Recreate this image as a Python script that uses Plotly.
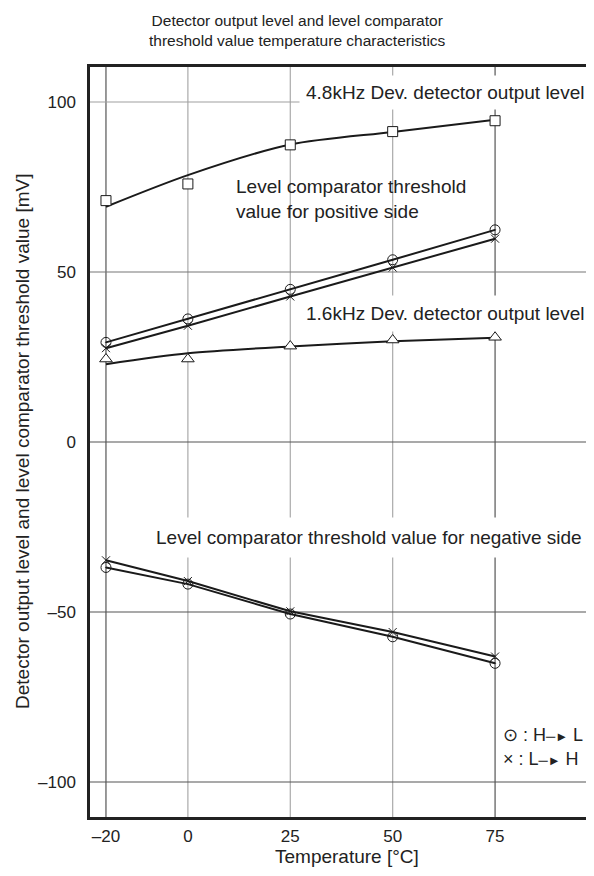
import plotly.graph_objects as go

# ---- data ----
temps = [-20, 0, 25, 50, 75]

det48_points = [71.0, 75.9, 87.4, 91.3, 94.5]
det48_curve = [69.2, 78.5, 87.5, 91.2, 94.8]

pos_hl = [29.3, 36.2, 44.9, 53.6, 62.4]
pos_lh = [27.6, 34.2, 42.8, 51.3, 59.8]

det16_points = [24.4, 24.4, 28.2, 30.0, 30.8]
det16_curve = [22.9, 26.1, 28.1, 29.6, 30.7]

neg_hl = [-36.9, -41.8, -50.6, -57.3, -65.1]
neg_lh = [-34.8, -40.9, -49.8, -55.9, -63.1]

x_ticks = [-20, 0, 25, 50, 75]
x_tick_labels = ["\u201320", "0", "25", "50", "75"]
y_ticks = [-100, -50, 0, 50, 100]
y_tick_labels = ["\u2013100", "\u201350", "0", "50", "100"]

FONT = "Liberation Sans, Arial, Helvetica, sans-serif"
INK = "#1a1a1a"
TXT = "#222222"

# page offset (body margin) compensation; visible area is 8..586 horizontally
OFF = 8
W, H = 594 - 2 * OFF, 876 - 2 * OFF
L, T = 90 - OFF, 67 - OFF
B = H - (817 - OFF)
PW = W - L
PH = H - T - B


def px_x(p):
    """page pixel x -> paper coordinate"""
    return (p - OFF - L) / PW


def px_y(p):
    """page pixel y -> paper coordinate"""
    return 1 - (p - OFF - T) / PH


fig = go.Figure()

LW = 2.0

# 4.8 kHz detector output level
fig.add_trace(go.Scatter(x=temps, y=det48_curve, mode="lines",
                         line=dict(color=INK, width=LW, shape="spline", smoothing=0.8),
                         showlegend=False, hoverinfo="skip"))
fig.add_trace(go.Scatter(x=temps, y=det48_points, mode="markers",
                         marker=dict(symbol="square", size=10, color="white",
                                     line=dict(color=INK, width=1)),
                         showlegend=False))

# 1.6 kHz detector output level
fig.add_trace(go.Scatter(x=temps, y=det16_curve, mode="lines",
                         line=dict(color=INK, width=LW, shape="spline", smoothing=0.8),
                         showlegend=False, hoverinfo="skip"))
fig.add_trace(go.Scatter(x=temps, y=det16_points, mode="markers",
                         marker=dict(symbol="triangle-up", size=11, color="white",
                                     line=dict(color=INK, width=1)),
                         showlegend=False))

# threshold lines
for ys, sym, sz in [(pos_lh, "x-thin-open", 8), (neg_lh, "x-thin-open", 8),
                    (pos_hl, "circle-open-dot", 10), (neg_hl, "circle-open-dot", 10)]:
    fig.add_trace(go.Scatter(x=temps, y=ys, mode="lines+markers",
                             line=dict(color=INK, width=LW),
                             marker=dict(symbol=sym, size=sz, color=INK,
                                         line=dict(color=INK, width=1)),
                             showlegend=False))

# grid lines
vcolors = {-20: "#555555", 0: "#aaaaaa", 25: "#aaaaaa", 50: "#aaaaaa", 75: "#555555"}
hcolors = {100: "#a0a0a0", 50: "#777777", 0: "#555555", -50: "#555555", -100: "#555555"}
shapes = []
for xv in x_ticks:
    shapes.append(dict(type="line", xref="x", yref="paper", x0=xv, x1=xv, y0=0, y1=1,
                       line=dict(color=vcolors[xv], width=1.2), layer="below"))
for yv in y_ticks:
    shapes.append(dict(type="line", xref="paper", yref="y", x0=0, x1=1, y0=yv, y1=yv,
                       line=dict(color=hcolors[yv], width=1.2), layer="below"))

ann_font = dict(family=FONT, size=19, color=TXT)
leg_font = dict(family=FONT, size=18, color=TXT)
arrow = "<span style='font-size:13px'>\u2500\u25ba</span>"
annotations = [
    dict(x=px_x(591), y=px_y(92), xref="paper", yref="paper", xanchor="right", yanchor="middle",
         text="4.8kHz Dev. detector output level", showarrow=False, font=ann_font,
         bgcolor="white", borderpad=6),
    dict(x=px_x(234), y=px_y(199), xref="paper", yref="paper", xanchor="left", yanchor="middle",
         align="left",
         text="Level comparator threshold<br>value for positive side", showarrow=False,
         font=ann_font),
    dict(x=px_x(592), y=px_y(313), xref="paper", yref="paper", xanchor="right", yanchor="middle",
         text="1.6kHz Dev. detector output level", showarrow=False, font=ann_font,
         bgcolor="white", borderpad=7),
    dict(x=px_x(146), y=px_y(537), xref="paper", yref="paper", xanchor="left", yanchor="middle",
         text="Level comparator threshold value for negative side", showarrow=False,
         font=ann_font, bgcolor="white", borderpad=9),
    dict(x=px_x(501), y=px_y(735), xref="paper", yref="paper", xanchor="left", yanchor="middle",
         text="\u2299 : H" + arrow + " L", showarrow=False, font=leg_font),
    dict(x=px_x(501), y=px_y(759), xref="paper", yref="paper", xanchor="left", yanchor="middle",
         text="\u00d7 : L" + arrow + " H", showarrow=False, font=leg_font),
    dict(x=px_x(297), y=px_y(30), xref="paper", yref="paper",
         xanchor="center", yanchor="middle",
         text="Detector output level and level comparator<br>threshold value temperature characteristics",
         showarrow=False, font=dict(family=FONT, size=15.5, color=TXT)),
    dict(x=px_x(22), y=0.5, xref="paper", yref="paper", xanchor="center",
         yanchor="middle", textangle=-90,
         text="Detector output level and level comparator threshold value [mV]",
         showarrow=False, font=ann_font),
    dict(x=px_x(347), y=px_y(857), xref="paper", yref="paper",
         xanchor="center", yanchor="middle", text="Temperature [\u00b0C]",
         showarrow=False, font=ann_font),
]

fig.update_layout(
    width=W, height=H,
    margin=dict(l=L, r=0, t=T, b=B, pad=0),
    paper_bgcolor="white", plot_bgcolor="white",
    font=dict(family=FONT, size=17, color=TXT),
    shapes=shapes, annotations=annotations,
    xaxis=dict(range=[-23.9, 97.2], tickvals=x_ticks, ticktext=x_tick_labels,
               showgrid=False, zeroline=False, showline=True, mirror=True,
               linecolor="#222222", linewidth=2.5,
               ticks="outside", ticklen=2, tickcolor="rgba(0,0,0,0)"),
    yaxis=dict(range=[-110.3, 110.3], tickvals=y_ticks, ticktext=y_tick_labels,
               showgrid=False, zeroline=False, showline=True, mirror=False,
               linecolor="#222222", linewidth=2.5,
               ticks="outside", ticklen=8, tickcolor="rgba(0,0,0,0)"),
)

fig.write_html("out.html")
